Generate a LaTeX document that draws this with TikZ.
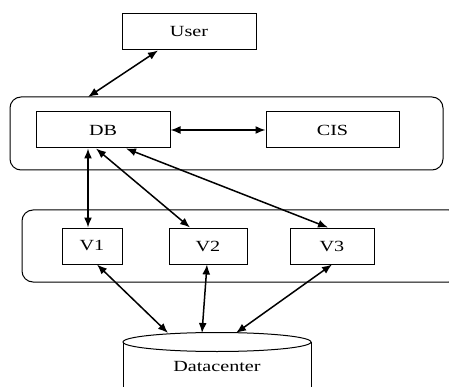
\documentclass[tikz,border=0pt]{standalone}
\usepackage{fontspec}
\setmainfont[FakeStretch=1.3]{Liberation Serif}
\usetikzlibrary{arrows.meta}
\begin{document}
\begin{tikzpicture}[x=1pt,y=-1pt,
  box/.style={draw,line width=1pt,inner sep=0pt,font=\fontsize{15.5}{18}\selectfont},
  group/.style={draw,line width=1pt,rounded corners=11pt},
  link/.style={line width=1.5pt,{Latex[length=10pt,width=8pt]}-{Latex[length=10pt,width=8pt]}}]
\useasboundingbox (0,0) rectangle (449,387);
\clip (0,0) rectangle (449,387);
% groups
\draw[group] (10,97) rectangle (443,170);
\draw[group] (22,210) rectangle (460,282);
% nodes
\node[box,minimum width=134pt,minimum height=36pt] (user) at (189,32) {User};
\node[box,minimum width=134pt,minimum height=36pt] (db) at (103,130) {DB};
\node[box,minimum width=133pt,minimum height=36pt] (cis) at (332.5,130) {CIS};
\node[box,minimum width=60pt,minimum height=36pt] (v1) at (92,246) {V1};
\node[box,minimum width=78pt,minimum height=36pt] (v2) at (208,246) {V2};
\node[box,minimum width=84pt,minimum height=36pt] (v3) at (332,246) {V3};
% datacenter cylinder
\draw[line width=1pt] (123,342) -- (123,395) (311,342) -- (311,395);
\draw[line width=1pt,fill=white] (217,342) ellipse [x radius=94, y radius=9.5];
\node[font=\fontsize{15.5}{18}\selectfont] (dc) at (217,366) {Datacenter};
% connector ends
\coordinate (gtop) at (88,97);
\coordinate (db1) at (88,148.5);
\coordinate (db2) at (96,148.5);
\coordinate (db3) at (126,148.5);
\coordinate (v1t) at (88,227.5);
\coordinate (v2t) at (190,227.5);
\coordinate (v3t) at (328,227.5);
\coordinate (v1b) at (97,264.5);
\coordinate (v2b) at (207,264.5);
\coordinate (v3b) at (332,264.5);
\coordinate (dc1) at (168,333);
\coordinate (dc2) at (202,333);
\coordinate (dc3) at (236,333);
% connectors
\draw[link] (user.south -| 158,0) -- (gtop);
\draw[link] (db.east) -- (cis.west);
\draw[link] (db1) -- (v1t);
\draw[link] (db2) -- (v2t);
\draw[link] (db3) -- (v3t);
\draw[link] (v1b) -- (dc1);
\draw[link] (v2b) -- (dc2);
\draw[link] (v3b) -- (dc3);
\end{tikzpicture}
\end{document}
